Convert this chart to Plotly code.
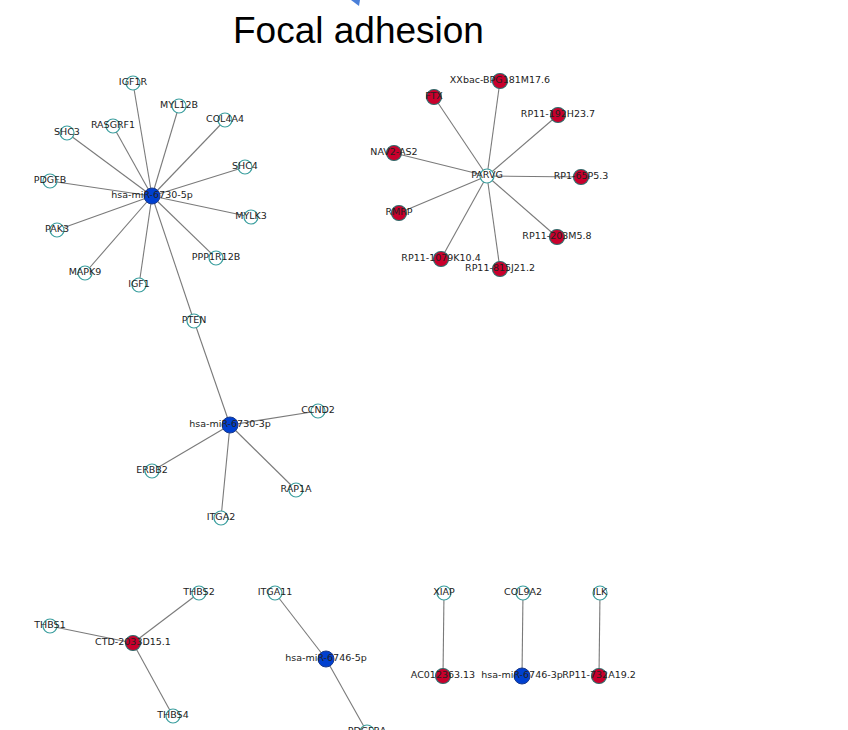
import plotly.graph_objects as go

# Node names, kinds and layout positions (pixel-like layout coordinates)
node_names = [
    "hsa-miR-6730-5p", "IGF1R", "MYL12B", "COL4A4", "RASGRF1", "SHC3", "SHC4", "PDGFB",
    "MYLK3", "PAK3", "PPP1R12B", "MAPK9", "IGF1", "PTEN",
    "hsa-miR-6730-3p", "CCND2", "ERBB2", "RAP1A", "ITGA2",
    "PARVG", "XXbac-BPG181M17.6", "FTX", "RP11-192H23.7", "NAV2-AS2", "RP1-65P5.3",
    "RMRP", "RP11-203M5.8", "RP11-1079K10.4", "RP11-815J21.2",
    "CTD-2033D15.1", "THBS2", "THBS1", "THBS4",
    "hsa-miR-6746-5p", "ITGA11", "PDGFRA",
    "XIAP", "AC012363.13", "COL9A2", "hsa-miR-6746-3p", "ILK", "RP11-732A19.2",
]
node_kind = [
    "mirna", "gene", "gene", "gene", "gene", "gene", "gene", "gene",
    "gene", "gene", "gene", "gene", "gene", "gene",
    "mirna", "gene", "gene", "gene", "gene",
    "gene", "lnc", "lnc", "lnc", "lnc", "lnc",
    "lnc", "lnc", "lnc", "lnc",
    "lnc", "gene", "gene", "gene",
    "mirna", "gene", "gene",
    "gene", "lnc", "gene", "mirna", "gene", "lnc",
]
node_x = [
    152, 133, 179, 225, 113, 67, 245, 50,
    251, 57, 216, 85, 139, 194,
    230, 318, 152, 296, 221,
    487, 500, 434, 558, 394, 581,
    399, 557, 441, 500,
    133, 199, 50, 173,
    326, 275, 367,
    444, 443, 523, 522, 600, 599,
]
node_y = [
    196, 83, 106, 120, 126, 133, 167, 181,
    217, 230, 258, 273, 285, 321,
    425, 411, 471, 490, 518,
    176, 81, 97, 115, 153, 177,
    213, 237, 259, 269,
    643, 593, 626, 716,
    659, 593, 732,
    593, 676, 593, 676, 593, 676,
]

edge_src = [
    "hsa-miR-6730-5p"] * 13 + ["hsa-miR-6730-3p"] * 5 + ["PARVG"] * 9 + \
    ["CTD-2033D15.1"] * 3 + ["hsa-miR-6746-5p"] * 2 + ["XIAP", "COL9A2", "ILK"]
edge_dst = [
    "IGF1R", "MYL12B", "COL4A4", "RASGRF1", "SHC3", "SHC4", "PDGFB", "MYLK3", "PAK3",
    "PPP1R12B", "MAPK9", "IGF1", "PTEN",
    "PTEN", "CCND2", "ERBB2", "RAP1A", "ITGA2",
    "XXbac-BPG181M17.6", "FTX", "RP11-192H23.7", "NAV2-AS2", "RP1-65P5.3", "RMRP",
    "RP11-203M5.8", "RP11-1079K10.4", "RP11-815J21.2",
    "THBS2", "THBS1", "THBS4",
    "ITGA11", "PDGFRA",
    "AC012363.13", "hsa-miR-6746-3p", "RP11-732A19.2",
]

title_text = "Focal adhesion"

pos = {n: (x, y) for n, x, y in zip(node_names, node_x, node_y)}

ex, ey = [], []
for s, d in zip(edge_src, edge_dst):
    ex += [pos[s][0], pos[d][0], None]
    ey += [pos[s][1], pos[d][1], None]

fig = go.Figure()
fig.add_trace(go.Scatter(x=ex, y=ey, mode="lines",
                         line=dict(color="#7a7a7a", width=1.1),
                         hoverinfo="skip", showlegend=False))

styles = {
    "gene": dict(size=14, color="white", line=dict(color="#3a9e9e", width=1.2)),
    "lnc": dict(size=15, color="#c8002c", line=dict(color="#2f6b6b", width=1.2)),
    "mirna": dict(size=16, color="#0040d0", line=dict(color="#1a3a8a", width=1)),
}
for kind in ["gene", "lnc", "mirna"]:
    idx = [i for i, k in enumerate(node_kind) if k == kind]
    fig.add_trace(go.Scatter(
        x=[node_x[i] for i in idx], y=[node_y[i] for i in idx],
        text=[node_names[i] for i in idx],
        mode="markers+text", textposition="middle center",
        textfont=dict(family="DejaVu Sans", size=9.5, color="#222222"),
        marker=styles[kind], showlegend=False, hoverinfo="text"))

fig.add_annotation(x=358, y=30, xref="x", yref="y", text=title_text, showarrow=False,
                   font=dict(family="Liberation Sans, Arial", size=37, color="black"))

fig.add_shape(type="path", path="M 351 0 L 360 0 L 359 6 Z", xref="x", yref="y",
              fillcolor="#4a7fd8", line=dict(width=0))

fig.update_layout(
    width=848, height=730, margin=dict(l=0, r=0, t=0, b=0),
    plot_bgcolor="white", paper_bgcolor="white",
    xaxis=dict(range=[0, 848], visible=False, fixedrange=True),
    yaxis=dict(range=[730, 0], visible=False, fixedrange=True),
)

fig.write_html("out.html", config={"displayModeBar": False},
               post_script="document.body.style.margin='0';document.body.style.overflow='hidden';")
